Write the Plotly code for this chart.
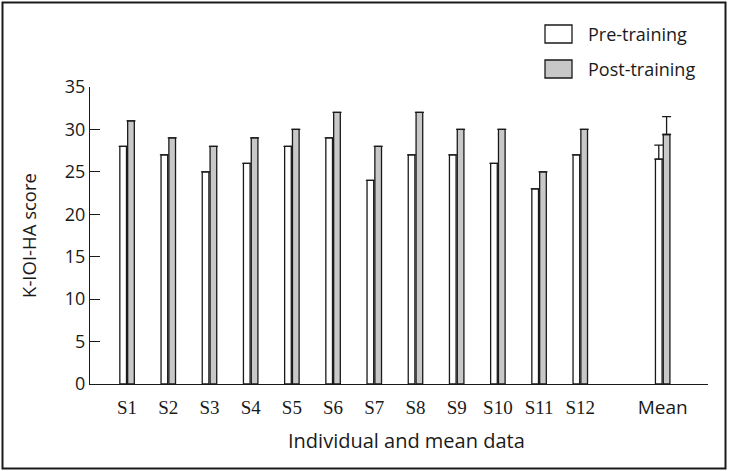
import plotly.graph_objects as go

categories = ["S1", "S2", "S3", "S4", "S5", "S6", "S7", "S8", "S9", "S10", "S11", "S12", "Mean"]
pre_training = [28, 27, 25, 26, 28, 29, 24, 27, 27, 26, 23, 27, 26.5]
post_training = [31, 29, 28, 29, 30, 32, 28, 32, 30, 30, 25, 30, 29.4]
pre_err = [0] * 12 + [1.65]
post_err = [0] * 12 + [2.1]
axis_order = categories[:12] + [" "] + categories[12:]
y_ticks = [0, 5, 10, 15, 20, 25, 30, 35]

SANS = "Open Sans"
SERIF = "Liberation Serif"
INK = "#1a1a1a"
W, H = 729, 471
L, R, T, B = 90, 21, 87, 87
PW, PH = W - L - R, H - T - B


def px(x):
    return (x - L) / PW


def py(y):
    return (H - B - y) / PH


fig = go.Figure()
fig.add_trace(go.Bar(
    x=categories, y=pre_training, name="Pre-training",
    marker=dict(color="white", line=dict(color=INK, width=1.3)),
    error_y=dict(type="data", symmetric=False, array=pre_err, arrayminus=[0] * 13,
                 color=INK, thickness=1.3, width=4.5),
    showlegend=False,
))
fig.add_trace(go.Bar(
    x=categories, y=post_training, name="Post-training",
    marker=dict(color="#c8c8c8", line=dict(color=INK, width=1.3)),
    error_y=dict(type="data", symmetric=False, array=post_err, arrayminus=[0] * 13,
                 color=INK, thickness=1.3, width=4.5),
    showlegend=False,
))

ticktext = [f'<span style="font-family:{SANS}">{c}</span>' if c == "Mean" else c for c in axis_order]

fig.update_layout(
    width=W, height=H,
    margin=dict(l=L, r=R, t=T, b=B),
    paper_bgcolor="white", plot_bgcolor="white",
    barmode="group", bargap=0.62, bargroupgap=0.15,
    font=dict(family=SANS, size=18, color=INK),
    xaxis=dict(
        type="category", categoryorder="array", categoryarray=axis_order,
        tickmode="array", tickvals=axis_order, ticktext=ticktext,
        range=[-0.9, 14.1], showline=True, linecolor=INK, linewidth=1.3,
        ticks="", showgrid=False, zeroline=False, ticklabelstandoff=6,
        tickfont=dict(family=SERIF, size=19, color=INK),
        title=dict(text="", standoff=16),
    ),
    yaxis=dict(
        range=[0, 35], tickvals=y_ticks, showline=True, linecolor=INK,
        linewidth=1.3, ticks="inside", ticklen=10, tickwidth=1.3, tickcolor=INK,
        showgrid=False, zeroline=False,
        tickfont=dict(family=SANS, size=18, color=INK),
        title=dict(text="K-IOI-HA score", standoff=23, font=dict(family=SANS, size=18.5)),
    ),
)

# x-axis title, placed under the axis
fig.add_annotation(xref="paper", yref="paper", x=px(406), y=py(441),
                   text="Individual and mean data", showarrow=False,
                   xanchor="center", yanchor="middle",
                   font=dict(family=SANS, size=20, color=INK))

# outer frame
fig.add_shape(type="rect", xref="paper", yref="paper",
              x0=px(2.5), x1=px(725.5), y0=py(468.5), y1=py(2.5),
              line=dict(color=INK, width=2), layer="below")

# legend keys
legend_items = [("Pre-training", "white", 34), ("Post-training", "#c8c8c8", 69)]
for label, color, cy in legend_items:
    fig.add_shape(type="rect", xref="paper", yref="paper",
                  x0=px(545), x1=px(572), y0=py(cy + 9), y1=py(cy - 9),
                  fillcolor=color, line=dict(color=INK, width=1.3))
    fig.add_annotation(xref="paper", yref="paper", x=px(586), y=py(cy),
                       text=label, showarrow=False, xanchor="left", yanchor="middle",
                       font=dict(family=SANS, size=18, color=INK))

fig.write_html("out.html", config={"displayModeBar": False},
               post_script="document.body.style.margin='0';")
